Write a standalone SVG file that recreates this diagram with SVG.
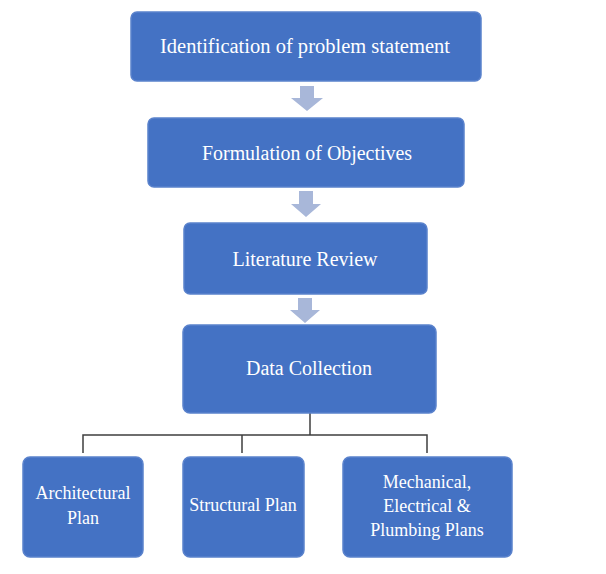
<svg xmlns="http://www.w3.org/2000/svg" width="606" height="574" viewBox="0 0 606 574">
<defs>
<style>
.box{fill:#4472C4;stroke:#5A82CC;stroke-width:1.5}
.t{font-family:"Liberation Serif","Times New Roman",serif;fill:#FFFFFF;text-anchor:middle;dominant-baseline:central}
.big{font-size:20px}
.sm{font-size:18px}
.arr{fill:#A8B7D9}
.ln{fill:none;stroke:#3F3F3F;stroke-width:1.5}
</style>
</defs>
<rect width="606" height="574" fill="#FFFFFF"/>
<g id="connectors">
<path class="arr" d="M300,86 H314 V98 H323 L307,111 L291,98 H300 Z"/>
<path class="arr" d="M299,191 H313 V204 H321 L306,217 L291,204 H299 Z"/>
<path class="arr" d="M298,298 H312 V310 H320 L305,323 L290,310 H298 Z"/>
<path class="ln" d="M310,413 V435 M83,453 V435 H427 V453 M242,435 V453"/>
</g>
<g id="n1"><rect class="box" x="131" y="12" width="350" height="69" rx="6"/><text class="t big" x="305" y="46" textLength="290" lengthAdjust="spacingAndGlyphs">Identification  of problem  statement</text></g>
<g id="n2"><rect class="box" x="148" y="118" width="316" height="69" rx="6"/><text class="t big" x="307" y="153" textLength="210" lengthAdjust="spacingAndGlyphs">Formulation  of Objectives</text></g>
<g id="n3"><rect class="box" x="184" y="223" width="243" height="71" rx="6"/><text class="t big" x="305" y="259">Literature Review</text></g>
<g id="n4"><rect class="box" x="183" y="325" width="253" height="88" rx="7"/><text class="t big" x="309" y="368">Data Collection</text></g>
<g id="n5"><rect class="box" x="23" y="457" width="120" height="100" rx="7"/><text class="t sm" x="83" y="493">Architectural</text><text class="t sm" x="83" y="518">Plan</text></g>
<g id="n6"><rect class="box" x="183" y="457" width="121" height="100" rx="7"/><text class="t sm" x="243" y="505">Structural  Plan</text></g>
<g id="n7"><rect class="box" x="343" y="457" width="169" height="100" rx="7"/><text class="t sm" x="427" y="482">Mechanical,</text><text class="t sm" x="427" y="506">Electrical &amp;</text><text class="t sm" x="427" y="530">Plumbing  Plans</text></g>
</svg>
